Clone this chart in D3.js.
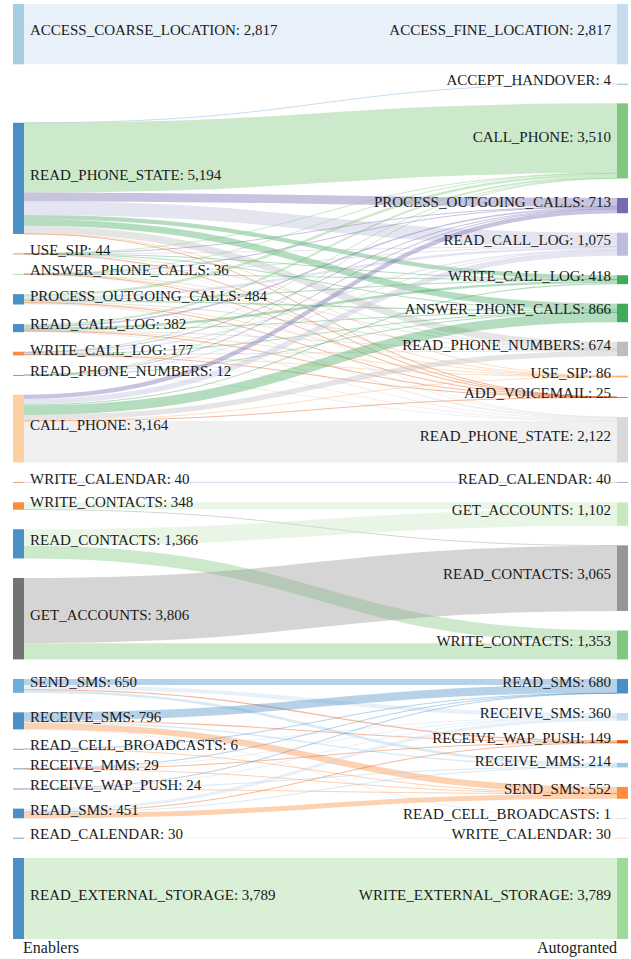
<!DOCTYPE html>
<html>
<head>
<meta charset="utf-8">
<script src="https://cdn.jsdelivr.net/npm/d3@7"></script>
<style>
  body { margin: 0; background: #fff; }
  text { font-family: "Liberation Serif", "DejaVu Serif", serif; font-size: 15px; fill: #1a1a1a; }
  text.column-title { font-size: 16px; }
</style>
</head>
<body>
<div id="chart"></div>
<script>
// left column (enablers) and right column (autogranted), top to bottom
const enablers = ["ACCESS_COARSE_LOCATION", "READ_PHONE_STATE", "USE_SIP", "ANSWER_PHONE_CALLS",
  "PROCESS_OUTGOING_CALLS", "READ_CALL_LOG", "WRITE_CALL_LOG", "READ_PHONE_NUMBERS", "CALL_PHONE",
  "WRITE_CALENDAR", "WRITE_CONTACTS", "READ_CONTACTS", "GET_ACCOUNTS", "SEND_SMS", "RECEIVE_SMS",
  "READ_CELL_BROADCASTS", "RECEIVE_MMS", "RECEIVE_WAP_PUSH", "READ_SMS", "READ_CALENDAR",
  "READ_EXTERNAL_STORAGE"];
const enablerColors = ["#a6cee3", "#4a8fc6", "#fd8d3c", "#a1d99b", "#4a8fc6", "#4a8fc6", "#fd8d3c",
  "#4a8fc6", "#fdd0a2", "#fd8d3c", "#fd8d3c", "#4a8fc6", "#737373", "#6baed6", "#4a8fc6",
  "#4a8fc6", "#4a8fc6", "#4a8fc6", "#4a8fc6", "#4a8fc6", "#4a8fc6"];

const autogranted = ["ACCESS_FINE_LOCATION", "ACCEPT_HANDOVER", "CALL_PHONE", "PROCESS_OUTGOING_CALLS",
  "READ_CALL_LOG", "WRITE_CALL_LOG", "ANSWER_PHONE_CALLS", "READ_PHONE_NUMBERS", "USE_SIP",
  "ADD_VOICEMAIL", "READ_PHONE_STATE", "READ_CALENDAR", "GET_ACCOUNTS", "READ_CONTACTS",
  "WRITE_CONTACTS", "READ_SMS", "RECEIVE_SMS", "RECEIVE_WAP_PUSH", "RECEIVE_MMS", "SEND_SMS",
  "READ_CELL_BROADCASTS", "WRITE_CALENDAR", "WRITE_EXTERNAL_STORAGE"];
const autograntedColors = ["#c6dbef", "#6baed6", "#80c880", "#756bb1", "#bcbddc", "#41ab5d",
  "#41ab5d", "#bdbdbd", "#fdae6b", "#e6550d", "#d9d9d9", "#9e9ac8", "#c7e9c0", "#969696",
  "#80c880", "#4a8fc6", "#c6dbef", "#e6550d", "#9ecae1", "#fd8d3c", "#dadaeb", "#fdd0a2", "#a1d99b"];

// [enabler, autogranted, count]
const locationLinks = [["ACCESS_COARSE_LOCATION", "ACCESS_FINE_LOCATION", 2817]];
const phoneLinks = [
  ["READ_PHONE_STATE", "ACCEPT_HANDOVER", 4], ["READ_PHONE_STATE", "CALL_PHONE", 3259],
  ["READ_PHONE_STATE", "PROCESS_OUTGOING_CALLS", 403], ["READ_PHONE_STATE", "READ_CALL_LOG", 643],
  ["READ_PHONE_STATE", "WRITE_CALL_LOG", 201], ["READ_PHONE_STATE", "ANSWER_PHONE_CALLS", 306],
  ["READ_PHONE_STATE", "READ_PHONE_NUMBERS", 335], ["READ_PHONE_STATE", "USE_SIP", 35],
  ["READ_PHONE_STATE", "ADD_VOICEMAIL", 8],
  ["USE_SIP", "CALL_PHONE", 8], ["USE_SIP", "PROCESS_OUTGOING_CALLS", 4], ["USE_SIP", "READ_CALL_LOG", 5],
  ["USE_SIP", "WRITE_CALL_LOG", 4], ["USE_SIP", "ANSWER_PHONE_CALLS", 6], ["USE_SIP", "READ_PHONE_NUMBERS", 4],
  ["USE_SIP", "ADD_VOICEMAIL", 3], ["USE_SIP", "READ_PHONE_STATE", 10],
  ["ANSWER_PHONE_CALLS", "CALL_PHONE", 6], ["ANSWER_PHONE_CALLS", "PROCESS_OUTGOING_CALLS", 4],
  ["ANSWER_PHONE_CALLS", "READ_CALL_LOG", 5], ["ANSWER_PHONE_CALLS", "WRITE_CALL_LOG", 3],
  ["ANSWER_PHONE_CALLS", "READ_PHONE_NUMBERS", 5], ["ANSWER_PHONE_CALLS", "USE_SIP", 3],
  ["ANSWER_PHONE_CALLS", "ADD_VOICEMAIL", 2], ["ANSWER_PHONE_CALLS", "READ_PHONE_STATE", 8],
  ["PROCESS_OUTGOING_CALLS", "CALL_PHONE", 120], ["PROCESS_OUTGOING_CALLS", "READ_CALL_LOG", 110],
  ["PROCESS_OUTGOING_CALLS", "WRITE_CALL_LOG", 50], ["PROCESS_OUTGOING_CALLS", "ANSWER_PHONE_CALLS", 60],
  ["PROCESS_OUTGOING_CALLS", "READ_PHONE_NUMBERS", 55], ["PROCESS_OUTGOING_CALLS", "USE_SIP", 6],
  ["PROCESS_OUTGOING_CALLS", "ADD_VOICEMAIL", 3], ["PROCESS_OUTGOING_CALLS", "READ_PHONE_STATE", 80],
  ["READ_CALL_LOG", "CALL_PHONE", 90], ["READ_CALL_LOG", "PROCESS_OUTGOING_CALLS", 70],
  ["READ_CALL_LOG", "WRITE_CALL_LOG", 110], ["READ_CALL_LOG", "ANSWER_PHONE_CALLS", 30],
  ["READ_CALL_LOG", "READ_PHONE_NUMBERS", 25], ["READ_CALL_LOG", "USE_SIP", 4],
  ["READ_CALL_LOG", "ADD_VOICEMAIL", 3], ["READ_CALL_LOG", "READ_PHONE_STATE", 50],
  ["WRITE_CALL_LOG", "CALL_PHONE", 25], ["WRITE_CALL_LOG", "PROCESS_OUTGOING_CALLS", 30],
  ["WRITE_CALL_LOG", "READ_CALL_LOG", 60], ["WRITE_CALL_LOG", "ANSWER_PHONE_CALLS", 12],
  ["WRITE_CALL_LOG", "READ_PHONE_NUMBERS", 10], ["WRITE_CALL_LOG", "USE_SIP", 2],
  ["WRITE_CALL_LOG", "ADD_VOICEMAIL", 1], ["WRITE_CALL_LOG", "READ_PHONE_STATE", 37],
  ["READ_PHONE_NUMBERS", "CALL_PHONE", 2], ["READ_PHONE_NUMBERS", "PROCESS_OUTGOING_CALLS", 2],
  ["READ_PHONE_NUMBERS", "READ_CALL_LOG", 2], ["READ_PHONE_NUMBERS", "ANSWER_PHONE_CALLS", 2],
  ["READ_PHONE_NUMBERS", "READ_PHONE_STATE", 4],
  ["CALL_PHONE", "PROCESS_OUTGOING_CALLS", 200], ["CALL_PHONE", "READ_CALL_LOG", 250],
  ["CALL_PHONE", "WRITE_CALL_LOG", 50], ["CALL_PHONE", "ANSWER_PHONE_CALLS", 450],
  ["CALL_PHONE", "READ_PHONE_NUMBERS", 240], ["CALL_PHONE", "USE_SIP", 36],
  ["CALL_PHONE", "ADD_VOICEMAIL", 5], ["CALL_PHONE", "READ_PHONE_STATE", 1933]
];
const calendarLinks = [["WRITE_CALENDAR", "READ_CALENDAR", 40], ["READ_CALENDAR", "WRITE_CALENDAR", 30]];
const contactsLinks = [
  ["WRITE_CONTACTS", "GET_ACCOUNTS", 328], ["WRITE_CONTACTS", "READ_CONTACTS", 20],
  ["READ_CONTACTS", "GET_ACCOUNTS", 774], ["READ_CONTACTS", "WRITE_CONTACTS", 592],
  ["GET_ACCOUNTS", "READ_CONTACTS", 3045], ["GET_ACCOUNTS", "WRITE_CONTACTS", 761]
];
const smsLinks = [
  ["SEND_SMS", "READ_SMS", 280], ["SEND_SMS", "RECEIVE_SMS", 190], ["SEND_SMS", "RECEIVE_WAP_PUSH", 60],
  ["SEND_SMS", "RECEIVE_MMS", 120],
  ["RECEIVE_SMS", "READ_SMS", 384], ["RECEIVE_SMS", "RECEIVE_WAP_PUSH", 50], ["RECEIVE_SMS", "RECEIVE_MMS", 60],
  ["RECEIVE_SMS", "SEND_SMS", 301], ["RECEIVE_SMS", "READ_CELL_BROADCASTS", 1],
  ["READ_CELL_BROADCASTS", "READ_SMS", 2], ["READ_CELL_BROADCASTS", "RECEIVE_SMS", 2],
  ["READ_CELL_BROADCASTS", "SEND_SMS", 2],
  ["RECEIVE_MMS", "READ_SMS", 8], ["RECEIVE_MMS", "RECEIVE_SMS", 8], ["RECEIVE_MMS", "RECEIVE_WAP_PUSH", 5],
  ["RECEIVE_MMS", "SEND_SMS", 8],
  ["RECEIVE_WAP_PUSH", "READ_SMS", 6], ["RECEIVE_WAP_PUSH", "RECEIVE_SMS", 8], ["RECEIVE_WAP_PUSH", "RECEIVE_MMS", 4],
  ["RECEIVE_WAP_PUSH", "SEND_SMS", 6],
  ["READ_SMS", "RECEIVE_SMS", 152], ["READ_SMS", "RECEIVE_WAP_PUSH", 34], ["READ_SMS", "RECEIVE_MMS", 30],
  ["READ_SMS", "SEND_SMS", 235]
];
const storageLinks = [["READ_EXTERNAL_STORAGE", "WRITE_EXTERNAL_STORAGE", 3789]];

const width = 631, height = 959;
const extentTop = 4, extentBottom = 939;
const nodeWidth = 11, nodePadding = 19.5;
const leftX = 13, rightX = 617;

const svg = d3.select("#chart").append("svg")
  .attr("width", width)
  .attr("height", height);

// build nodes and links
const leftNodes = enablers.map((name, i) => ({name, color: enablerColors[i], x0: leftX, x1: leftX + nodeWidth,
  sourceLinks: [], targetLinks: [], value: 0}));
const rightNodes = autogranted.map((name, i) => ({name, color: autograntedColors[i], x0: rightX, x1: rightX + nodeWidth,
  sourceLinks: [], targetLinks: [], value: 0}));
const leftByName = new Map(leftNodes.map(d => [d.name, d]));
const rightByName = new Map(rightNodes.map(d => [d.name, d]));

const links = [].concat(locationLinks, phoneLinks, calendarLinks, contactsLinks, smsLinks, storageLinks)
  .map(([s, t, v]) => {
    const l = {source: leftByName.get(s), target: rightByName.get(t), value: v};
    l.source.sourceLinks.push(l);
    l.target.targetLinks.push(l);
    l.source.value += v;
    l.target.value += v;
    return l;
  });

// vertical scale taken from the most crowded column
const columns = [leftNodes, rightNodes];
const ky = d3.min(columns, col => (extentBottom - extentTop - (col.length - 1) * nodePadding) / d3.sum(col, d => d.value));
const y = d3.scaleLinear().domain([0, 1]).range([0, ky]);

function stack(col) {
  let yy = extentTop;
  col.forEach(d => { d.y0 = yy; d.y1 = yy + y(d.value); yy = d.y1 + nodePadding; });
}
stack(rightNodes);
stack(leftNodes);

// move each enabler towards its targets, then resolve overlaps
leftNodes.forEach(d => {
  const c = d3.sum(d.sourceLinks, l => l.value * (l.target.y0 + l.target.y1) / 2) / d.value;
  const h = d.y1 - d.y0;
  d.y0 = c - h / 2; d.y1 = d.y0 + h;
});
function shift(d, yy) { const h = d.y1 - d.y0; d.y0 = yy; d.y1 = yy + h; }
let yy = extentTop;
leftNodes.forEach(d => { if (d.y0 < yy) shift(d, yy); yy = d.y1 + nodePadding; });
yy = extentBottom;
for (let i = leftNodes.length - 1; i >= 0; i--) {
  const d = leftNodes[i];
  if (d.y1 > yy) shift(d, yy - (d.y1 - d.y0));
  yy = d.y0 - nodePadding;
}

// link positions inside nodes
leftNodes.forEach(d => {
  d.sourceLinks.sort((a, b) => a.target.y0 - b.target.y0);
  let p = d.y0;
  d.sourceLinks.forEach(l => { l.width = y(l.value); l.y0 = p + l.width / 2; p += l.width; });
});
rightNodes.forEach(d => {
  d.targetLinks.sort((a, b) => a.source.y0 - b.source.y0);
  let p = d.y0;
  d.targetLinks.forEach(l => { p += l.width / 2; l.y1 = p; p += l.width / 2; });
});

const linkPath = d3.linkHorizontal()
  .source(d => [d.source.x1, d.y0])
  .target(d => [d.target.x0, d.y1]);

svg.append("g")
    .attr("fill", "none")
  .selectAll("path")
  .data(links)
  .join("path")
    .attr("d", linkPath)
    .attr("stroke", d => d.target.color)
    .attr("stroke-opacity", 0.4)
    .attr("stroke-width", d => Math.max(1, d.width));

const allNodes = leftNodes.concat(rightNodes);
svg.append("g")
  .selectAll("rect")
  .data(allNodes)
  .join("rect")
    .attr("x", d => d.x0)
    .attr("y", d => d.y0)
    .attr("width", nodeWidth)
    .attr("height", d => Math.max(0.8, d.y1 - d.y0))
    .attr("fill", d => d.color);

const fmt = d3.format(",");
svg.append("g")
  .selectAll("text")
  .data(allNodes)
  .join("text")
    .attr("x", d => d.x0 === leftX ? d.x1 + 6 : d.x0 - 6)
    .attr("y", d => (d.y0 + d.y1) / 2)
    .attr("dy", "0.08em")
    .attr("text-anchor", d => d.x0 === leftX ? "start" : "end")
    .text(d => d.name + ": " + fmt(d.value));

svg.append("text")
    .attr("class", "column-title")
    .attr("x", 23)
    .attr("y", 953)
    .text("Enablers");
svg.append("text")
    .attr("class", "column-title")
    .attr("x", 617)
    .attr("y", 953)
    .attr("text-anchor", "end")
    .text("Autogranted");
</script>
</body>
</html>
